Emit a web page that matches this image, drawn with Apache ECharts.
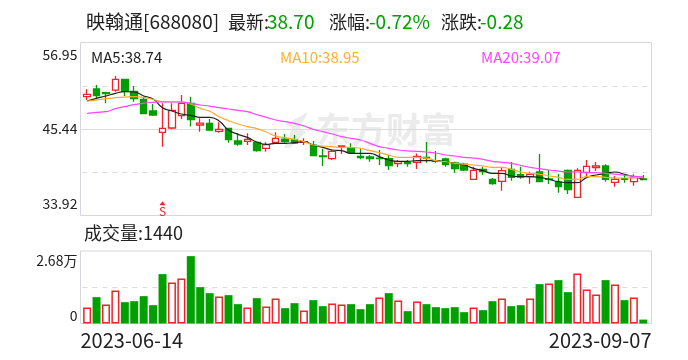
<!DOCTYPE html>
<html>
<head>
<meta charset="utf-8">
<style>
  html, body { margin: 0; padding: 0; background: #fff; }
  #main { width: 688px; height: 360px; }
</style>
<script src="https://cdn.jsdelivr.net/npm/echarts@6/dist/echarts.min.js"></script>
</head>
<body>
<div id="main"></div>
<script>
const dates = [
  "2023-06-14", "2023-06-15", "2023-06-16", "2023-06-19", "2023-06-20", "2023-06-21", "2023-06-26", "2023-06-27", "2023-06-28", "2023-06-29",
  "2023-06-30", "2023-07-03", "2023-07-04", "2023-07-05", "2023-07-06", "2023-07-07", "2023-07-10", "2023-07-11", "2023-07-12", "2023-07-13",
  "2023-07-14", "2023-07-17", "2023-07-18", "2023-07-19", "2023-07-20", "2023-07-21", "2023-07-24", "2023-07-25", "2023-07-26", "2023-07-27",
  "2023-07-28", "2023-07-31", "2023-08-01", "2023-08-02", "2023-08-03", "2023-08-04", "2023-08-07", "2023-08-08", "2023-08-09", "2023-08-10",
  "2023-08-11", "2023-08-14", "2023-08-15", "2023-08-16", "2023-08-17", "2023-08-18", "2023-08-21", "2023-08-22", "2023-08-23", "2023-08-24",
  "2023-08-25", "2023-08-28", "2023-08-29", "2023-08-30", "2023-08-31", "2023-09-01", "2023-09-04", "2023-09-05", "2023-09-06", "2023-09-07",
];

// open, close, low, high
const ohlc = [
  [49.74, 50.05, 49.29, 50.71], [50.76, 49.87, 49.38, 51.29], [50.27, 50.14, 48.85, 50.40], [50.62, 52.04, 50.40, 52.49],
  [52.04, 50.49, 49.83, 52.04], [50.45, 49.47, 49.07, 51.16], [49.38, 47.47, 47.47, 49.74], [47.83, 47.30, 47.16, 48.76],
  [44.99, 45.52, 43.08, 48.85], [45.57, 47.92, 45.39, 48.85], [47.21, 48.85, 46.76, 49.96], [48.85, 46.68, 45.76, 49.74],
  [45.97, 46.23, 45.08, 46.85], [46.19, 45.30, 45.17, 46.76], [45.12, 45.39, 44.95, 46.32], [45.52, 44.01, 43.61, 45.52],
  [43.84, 43.44, 43.21, 44.86], [43.79, 44.06, 43.30, 44.86], [43.66, 42.55, 42.42, 43.75], [42.86, 43.35, 42.42, 43.66],
  [43.66, 44.19, 43.53, 44.99], [44.10, 43.75, 43.61, 44.77], [43.97, 43.57, 43.44, 44.63], [43.66, 43.75, 43.30, 44.19],
  [43.30, 41.88, 41.88, 43.84], [41.84, 41.75, 40.51, 42.82], [41.48, 42.46, 41.31, 42.64], [42.99, 43.17, 42.10, 43.17],
  [42.95, 42.28, 42.10, 43.53], [41.79, 41.62, 41.40, 42.77], [41.71, 41.48, 41.09, 41.97], [41.57, 41.48, 40.64, 42.64],
  [41.48, 40.55, 39.98, 41.97], [40.82, 41.09, 40.33, 41.31], [41.00, 40.82, 40.42, 41.31], [41.00, 41.79, 40.11, 42.19],
  [41.66, 41.57, 40.95, 43.70], [41.22, 41.13, 40.95, 42.51], [41.44, 40.69, 40.42, 41.62], [40.91, 40.15, 39.62, 41.09],
  [40.77, 39.98, 39.84, 40.95], [38.73, 39.93, 38.73, 40.42], [40.06, 39.75, 39.31, 40.42], [38.73, 38.16, 38.02, 38.91],
  [38.47, 39.89, 37.23, 40.42], [40.06, 39.00, 38.56, 41.04], [39.35, 39.04, 38.82, 40.42], [39.09, 39.40, 38.16, 39.75],
  [39.71, 38.42, 38.42, 42.10], [38.78, 38.73, 38.11, 39.98], [38.38, 37.76, 36.96, 39.44], [39.93, 37.36, 36.78, 40.06],
  [36.34, 39.93, 36.34, 40.20], [39.66, 40.46, 39.18, 41.31], [40.29, 40.51, 39.84, 41.04], [40.51, 38.73, 38.42, 40.73],
  [38.33, 38.73, 37.76, 39.18], [38.82, 38.73, 38.29, 39.18], [38.42, 38.96, 37.89, 39.40], [38.78, 38.70, 38.64, 39.31],
];

const ma5 = [
  49.16, 49.52, 49.83, 50.18, 50.40, 50.36, 49.83, 49.43, 48.27, 47.83, 47.43, 47.25, 46.99, 46.99, 46.50, 45.30, 44.72, 44.32, 43.70, 43.39,
  43.53, 43.53, 43.61, 43.75, 43.30, 42.99, 42.64, 42.55, 42.19, 42.19, 42.19, 41.75, 41.31, 41.13, 41.13, 41.22, 41.22, 41.22, 41.09, 40.86,
  40.64, 40.20, 39.89, 39.53, 39.53, 39.18, 39.09, 39.09, 39.00, 38.73, 38.42, 38.29, 38.29, 39.00, 39.31, 39.53, 39.71, 39.40, 39.09, 38.74,
];
const ma10 = [
  49.16, 49.29, 49.47, 49.60, 49.69, 49.74, 49.65, 49.38, 49.07, 49.03, 49.03, 48.76, 48.18, 47.79, 47.07, 46.54, 46.10, 45.76, 45.48, 45.03,
  44.50, 44.28, 44.06, 43.75, 43.30, 43.17, 43.08, 42.99, 42.99, 42.86, 42.55, 42.28, 41.97, 41.66, 41.66, 41.66, 41.57, 41.22, 41.09, 40.86,
  40.77, 40.64, 40.51, 40.33, 40.33, 40.06, 39.71, 39.53, 39.44, 39.18, 39.00, 38.73, 38.73, 39.09, 39.09, 39.00, 38.91, 38.91, 38.96, 38.95,
];
const ma20 = [
  47.52, 47.65, 47.74, 48.14, 48.41, 48.67, 48.89, 48.98, 49.03, 49.03, 49.03, 48.85, 48.63, 48.49, 48.27, 48.10, 47.92, 47.74, 47.34, 46.99,
  46.63, 46.41, 46.19, 45.83, 45.39, 45.08, 44.77, 44.41, 44.19, 43.97, 43.53, 43.08, 42.86, 42.64, 42.51, 42.46, 42.37, 42.24, 41.97, 41.84,
  41.66, 41.57, 41.40, 41.13, 41.00, 40.86, 40.60, 40.33, 40.15, 39.98, 39.84, 39.71, 39.71, 39.62, 39.62, 39.53, 39.44, 39.27, 39.13, 39.07,
];

const volume = [
  5920, 9740, 7030, 12200, 7890, 8260, 10110, 6780, 18250, 15170, 16650, 24900, 13440, 11220, 9990, 10480, 7150, 5920, 9370, 6290,
  9250, 5670, 7520, 4810, 8630, 6410, 7400, 7030, 7150, 5300, 7150, 9620, 11220, 8510, 4560, 8140, 7150, 6040, 5670, 6040,
  4190, 5920, 4930, 8260, 9250, 6410, 6780, 9250, 14550, 14800, 16030, 11590, 18500, 12580, 10730, 16030, 14430, 8630, 9620, 1440,
];
// 1 = 红 hollow bar, 0 = 绿 solid bar
const volumeUp = [
  1, 0, 1, 1, 0, 0, 0, 0, 0, 1, 1, 0, 0, 0, 1, 0, 0, 1, 0, 1,
  1, 0, 0, 1, 0, 0, 1, 1, 0, 0, 0, 1, 0, 1, 0, 1, 0, 0, 0, 0,
  0, 1, 0, 0, 1, 0, 0, 1, 0, 1, 0, 0, 1, 1, 1, 0, 1, 0, 1, 0,
];

const priceTicks = [33.92, 45.44, 56.95];
const priceGridLines = [39.68, 51.19];
const volumeTicks = [0, 26800];
const volumeTickNames = { 0: "0", 26800: "2.68万" };
const dateLabels = ["2023-06-14", "2023-09-07"];
const stockName = "映翰通[688080]";
const headLabels = ["最新:", "涨幅:", "涨跌:"];
const headValues = ["38.70", "-0.72%", "-0.28"];
const maLabels = ["MA5:38.74", "MA10:38.95", "MA20:39.07"];
const volumeLabel = "成交量:1440";
const signalDate = "2023-06-28";
const signalPrice = 35.55;

const RED = "#f0222a";
const GREEN = "#009f00";
const FRAME = "#d6d6de";
const DASH = "#dcdcdc";
const FONT = "Noto Sans CJK SC";
const INK = "#222";

function textTitle(text, left, top, color, size) {
  return { text: text, left: left, top: top, textStyle: { color: color, fontSize: size, fontWeight: "normal", fontFamily: FONT } };
}

let element = document.getElementById("main");
let myChart = echarts.init(element);

// title has 5px padding, so every left is 5 less than where the text starts
let labelLefts = [223, 324, 436];
let valueLefts = [262, 364, 475];
let maLefts = [86, 275, 476];
let maColors = [INK, "#ffb030", "#ff44ff"];

let titles = [textTitle(stockName, 81, 7, INK, 19)];
headLabels.forEach((t, i) => titles.push(textTitle(t, labelLefts[i], 8, INK, 18)));
headValues.forEach((t, i) => titles.push(textTitle(t, valueLefts[i], 7, "#00a000", 19)));
maLabels.forEach((t, i) => titles.push(textTitle(t, maLefts[i], 45, maColors[i], 15)));
titles.push(textTitle(volumeLabel, 79, 219, INK, 18));

let option = {
  animation: false,
  backgroundColor: "#fff",
  title: titles,
  grid: [
    { left: 82.4, width: 565.6, top: 42.5, height: 173 },
    { left: 82.4, width: 565.6, top: 251, height: 72.5 },
    // the outer frames are a bit wider than the bars
    { left: 80.5, width: 571, top: 42.5, height: 173, show: true, borderColor: FRAME, borderWidth: 1, backgroundColor: "transparent" },
    { left: 80.5, width: 571, top: 251, height: 72.5, show: true, borderColor: FRAME, borderWidth: 1, backgroundColor: "transparent" },
  ],
  xAxis: [
    { type: "category", gridIndex: 0, data: dates, show: false },
    { type: "category", gridIndex: 1, data: dates, show: false },
    { type: "value", gridIndex: 2, min: 0, max: 1, show: false },
    {
      type: "category",
      gridIndex: 3,
      data: dateLabels,
      boundaryGap: false,
      axisLine: { show: false },
      axisTick: { show: false },
      axisLabel: {
        interval: 0,
        margin: 7,
        alignMinLabel: "left",
        alignMaxLabel: "right",
        color: INK,
        fontSize: 20,
        fontFamily: FONT,
      },
    },
  ],
  yAxis: [
    {
      type: "value",
      gridIndex: 0,
      min: 33.92,
      max: 56.95,
      axisLine: { show: false },
      axisTick: { show: false, customValues: priceGridLines },
      splitLine: { show: true, lineStyle: { type: [5, 5], color: DASH, width: 1 } },
      axisLabel: {
        customValues: priceTicks,
        margin: 5,
        formatter: (v) => {
          if (v === priceTicks[0]) return "{low|" + v.toFixed(2) + "}";
          if (v === priceTicks[2]) return "{high|" + v.toFixed(2) + "}";
          return "{mid|" + v.toFixed(2) + "}";
        },
        rich: {
          low: { color: INK, fontSize: 14, fontFamily: FONT, padding: [0, 0, 23, 0] },
          mid: { color: INK, fontSize: 14, fontFamily: FONT },
          high: { color: INK, fontSize: 14, fontFamily: FONT, padding: [25, 0, 0, 0] },
        },
      },
    },
    {
      type: "value",
      gridIndex: 1,
      min: 0,
      max: 26800,
      axisLine: { show: false },
      axisTick: { show: false, customValues: [13400] },
      splitLine: { show: true, lineStyle: { type: [5, 5], color: DASH, width: 1 } },
      axisLabel: {
        customValues: volumeTicks,
        margin: 5,
        formatter: (v) => (v === 0 ? "{low|0}" : "{high|" + volumeTickNames[v] + "}"),
        rich: {
          low: { color: INK, fontSize: 14, fontFamily: FONT, padding: [0, 0, 15, 0] },
          high: { color: INK, fontSize: 14, fontFamily: FONT, padding: [20, 0, 0, 0] },
        },
      },
    },
    {
      type: "value",
      gridIndex: 2,
      min: 33.92,
      max: 56.95,
      axisLine: { show: false },
      axisLabel: { show: false },
      axisTick: { show: false, customValues: [45.44] },
      splitLine: { show: true, lineStyle: { color: DASH, width: 1 } },
    },
    { type: "value", gridIndex: 3, min: 0, max: 1, show: false },
  ],
  series: [
    {
      name: "K",
      type: "candlestick",
      xAxisIndex: 0,
      yAxisIndex: 0,
      data: ohlc,
      barWidth: 7,
      itemStyle: { color: "#fff", color0: GREEN, borderColor: RED, borderColor0: GREEN, borderWidth: 1.3 },
      markPoint: {
        symbol: "triangle",
        symbolSize: [6, 4],
        itemStyle: { color: RED },
        label: { show: true, position: "bottom", distance: 0, formatter: "S", color: RED, fontSize: 12, fontFamily: FONT },
        data: [{ coord: [signalDate, signalPrice] }],
      },
    },
    { name: "MA5", type: "line", xAxisIndex: 0, yAxisIndex: 0, data: ma5, smooth: true, symbol: "none", lineStyle: { color: "#222", width: 1.2 }, z: 3 },
    { name: "MA10", type: "line", xAxisIndex: 0, yAxisIndex: 0, data: ma10, smooth: true, symbol: "none", lineStyle: { color: "#ffa928", width: 1.2 }, z: 3 },
    { name: "MA20", type: "line", xAxisIndex: 0, yAxisIndex: 0, data: ma20, smooth: true, symbol: "none", lineStyle: { color: "#ff44ff", width: 1.2 }, z: 3 },
    {
      name: "成交量",
      type: "bar",
      xAxisIndex: 1,
      yAxisIndex: 1,
      barWidth: 8,
      data: volume.map((v, i) => ({
        value: v,
        itemStyle: volumeUp[i]
          ? { color: "#fff", borderColor: RED, borderWidth: 1.5 }
          : { color: "#00a000", borderWidth: 0 },
      })),
    },
  ],
  graphic: [
    {
      type: "text",
      left: 316,
      top: 112,
      z: -1,
      style: { text: "东方财富", fill: "#ebebeb", font: "bold 35px 'Noto Sans CJK SC'" },
    },
    {
      type: "polygon",
      z: -1,
      shape: { points: [[308, 112], [300, 128], [306, 132], [290, 148], [284, 148], [292, 128], [286, 124]] },
      style: { fill: "#ebebeb" },
    },
  ],
};
myChart.setOption(option);
</script>
</body>
</html>
